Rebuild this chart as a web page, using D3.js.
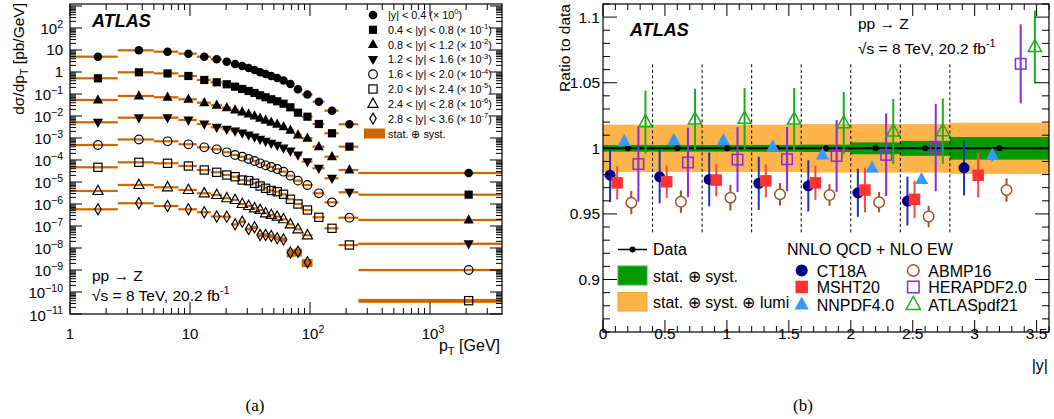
<!DOCTYPE html>
<html><head><meta charset="utf-8">
<script src="https://d3js.org/d3.v7.min.js"></script>
<style>
html,body{margin:0;padding:0;background:#fff;}
svg{display:block;}
text{font-family:"Liberation Sans",Arial,Helvetica,sans-serif;fill:#000;}
</style></head>
<body><svg id="chart" width="1054" height="419"></svg>
<script>
// ================= Panel (a) data =================
const ptLow  = [0,2.5,5,8,11.4,14.9,18.5,22,25.5,29,32.6,36.4,40.4,44.9,50.2,56.4,63.9,73.4,85.4,105,132,173,253];
const ptHigh = [2.5,5,8,11.4,14.9,18.5,22,25.5,29,32.6,36.4,40.4,44.9,50.2,56.4,63.9,73.4,85.4,105,132,173,253,8000];
const ptPos  = [1.71,3.75,6.5,9.7,13.15,16.7,20.25,23.75,27.25,30.8,34.5,38.4,42.65,47.55,53.3,60.15,68.65,79.4,95.2,118.5,152.5,213,2100];
const scaleExp = [0,-1,-2,-3,-4,-5,-6,-7];
// unscaled dσ/dpT [pb/GeV]
const sigY1 = [4.96,9.68,8.37,6.79,4.96,3.78,2.94,2.31,1.87,1.52,1.23,0.968,0.81,0.658,0.533,0.411,0.285,0.164,0.0949,0.0447,0.0174,0.0042,2.56e-5];
const sigY2 = [5.17,9.68,8.6,6.58,4.33,3.40,2.76,2.15,1.69,1.37,1.11,0.873,0.708,0.574,0.466,0.362,0.248,0.141,0.093,0.0433,0.0164,0.00403,2.65e-5];
const sigY3 = [5.34,8.11,7.08,5.74,4.03,3.06,2.38,1.87,1.52,1.23,1.00,0.785,0.638,0.518,0.42,0.327,0.224,0.137,0.0968,0.0403,0.0141,0.00351,1.88e-5];
const sigY4 = [5.17,8.37,8.37,6.58,4.33,3.06,2.48,2.08,1.69,1.37,1.11,0.873,0.708,0.574,0.466,0.351,0.256,0.169,0.0838,0.042,0.0147,0.0034,1.57e-5];
const sigY5 = [4.81,8.55,7.08,5.17,3.78,3.06,2.24,1.69,1.41,1.11,0.902,0.708,0.574,0.481,0.39,0.294,0.193,0.115,0.0731,0.0306,0.0119,0.00238,1.0e-5];
const sigY6 = [4.66,7.85,7.08,5.33,3.51,2.76,2.08,1.74,1.23,1.15,0.873,0.658,0.518,0.411,0.362,0.276,0.164,0.1,0.0533,0.0248,0.00785,0.00137,4.03e-6];
const sigY7 = [3.90,7.31,5.74,4.33,3.06,2.56,1.82,1.52,1.0,0.811,0.638,0.533,0.378,0.316,0.265,0.202,0.119,0.0708,0.0378];
const sigY8 = [5.74,10.8,8.11,5.74,4.20,2.70,2.65,1.19,1.57,0.731,0.873,0.39,0.39,0.351,0.276,0.243,0.0624,0.0679,0.0224];
// relative uncertainties (stat ⊕ syst)
const errY1 = [0.02,0.02,0.02,0.02,0.02,0.02,0.02,0.02,0.02,0.02,0.02,0.02,0.02,0.02,0.02,0.02,0.02,0.02,0.03,0.03,0.04,0.05,0.10];
const errY2 = [0.02,0.02,0.02,0.02,0.02,0.02,0.02,0.02,0.02,0.02,0.02,0.02,0.02,0.02,0.02,0.02,0.02,0.02,0.03,0.03,0.04,0.05,0.10];
const errY3 = [0.02,0.02,0.02,0.02,0.02,0.02,0.02,0.02,0.02,0.02,0.02,0.02,0.02,0.02,0.02,0.02,0.02,0.02,0.03,0.03,0.04,0.05,0.10];
const errY4 = [0.02,0.02,0.02,0.02,0.02,0.02,0.02,0.02,0.02,0.02,0.02,0.02,0.02,0.02,0.02,0.02,0.02,0.03,0.03,0.04,0.05,0.06,0.12];
const errY5 = [0.02,0.02,0.02,0.02,0.02,0.02,0.02,0.02,0.02,0.02,0.02,0.02,0.02,0.02,0.02,0.03,0.03,0.03,0.04,0.05,0.06,0.08,0.12];
const errY6 = [0.03,0.03,0.03,0.03,0.03,0.03,0.03,0.03,0.03,0.03,0.03,0.03,0.03,0.03,0.04,0.04,0.04,0.05,0.06,0.07,0.08,0.12,0.20];
const errY7 = [0.03,0.03,0.03,0.03,0.03,0.03,0.03,0.03,0.04,0.04,0.04,0.05,0.05,0.05,0.06,0.06,0.07,0.08,0.10];
const errY8 = [0.04,0.04,0.04,0.05,0.06,0.08,0.10,0.12,0.14,0.16,0.16,0.20,0.20,0.20,0.20,0.22,0.40,0.40,0.40];
const legendA = [
  [["|y| < 0.4 (× 10"],["0","sup"],[")"]],
  [["0.4 < |y| < 0.8 (× 10"],["-1","sup"],[")"]],
  [["0.8 < |y| < 1.2 (× 10"],["-2","sup"],[")"]],
  [["1.2 < |y| < 1.6 (× 10"],["-3","sup"],[")"]],
  [["1.6 < |y| < 2.0 (× 10"],["-4","sup"],[")"]],
  [["2.0 < |y| < 2.4 (× 10"],["-5","sup"],[")"]],
  [["2.4 < |y| < 2.8 (× 10"],["-6","sup"],[")"]],
  [["2.8 < |y| < 3.6 (× 10"],["-7","sup"],[")"]]
];

// ================= Panel (b) data =================
const yBinLo = [0,0.4,0.8,1.2,1.6,2.0,2.4,2.8];
const yBinHi = [0.4,0.8,1.2,1.6,2.0,2.4,2.8,3.6];
const dataRatio = [1,1,1,1,1,1,1,1];
const errStatSyst = [0.0025,0.0025,0.0025,0.0026,0.0028,0.0045,0.0057,0.0086];
const errStatSystLumi = [0.018,0.018,0.018,0.018,0.0185,0.0185,0.0185,0.0195];
const CT18A = [0.9795,0.9783,0.9763,0.9733,0.9714,0.9661,0.9598,0.9851];
const CT18A_err = [0.0205,0.0202,0.0205,0.0202,0.0195,0.0183,0.0186,0.021];
const MSHT20 = [0.9737,0.9745,0.9758,0.9752,0.9737,0.9682,0.9611,0.9795];
const MSHT20_err = [0.0127,0.0123,0.0124,0.0126,0.013,0.017,0.0143,0.017];
const NNPDF40 = [1.0053,1.006,1.006,1.001,0.995,0.9851,0.9763,0.9947];
const NNPDF40_err = [0.002,0.002,0.002,0.002,0.002,0.003,0.003,0.005];
const ABMP16 = [0.9586,0.9593,0.9624,0.9649,0.9644,0.9589,0.948,0.9682];
const ABMP16_err = [0.0088,0.0086,0.0098,0.0086,0.0082,0.0078,0.0082,0.0089];
const HERAPDF20 = [0.988,0.9892,0.9914,0.9917,0.9942,0.995,1.0006,1.0644];
const HERAPDF20_err = [0.0287,0.0265,0.0248,0.0245,0.0274,0.0314,0.0333,0.0301];
const ATLASpdf21 = [1.02,1.022,1.0225,1.022,1.0192,1.0129,1.0131,1.0773];
const ATLASpdf21_err = [0.024,0.0234,0.0236,0.024,0.0237,0.0248,0.0249,0.0278];
const yTicksB = [0.9,0.95,1,1.05,1.1];
const xTicksB = [0,0.5,1,1.5,2,2.5,3,3.5];

// ================= helpers =================
const svg = d3.select("#chart");
function rich(sel, x, y, parts, size, anchor){
  const t = sel.append("text").attr("x",x).attr("y",y).attr("font-size",size).attr("text-anchor",anchor||"start");
  let cur = 0;
  parts.forEach(p=>{
    const s=p[0], type=p[1]||"n";
    const target = type==="sup" ? -size*0.42 : type==="sub" ? size*0.28 : 0;
    const ts = t.append("tspan").text(s).attr("dy", target-cur);
    if(type!=="n") ts.attr("font-size", size*0.7);
    cur = target;
  });
  return t;
}
function tick(g,x1,y1,x2,y2){
  g.append("line").attr("x1",x1).attr("y1",y1).attr("x2",x2).attr("y2",y2).attr("stroke","#000").attr("stroke-width",1);
}
function marker(g,type,x,y,s,fill,stroke,sw){
  let el;
  if(type==="circle") el=g.append("circle").attr("cx",x).attr("cy",y).attr("r",s/2);
  else if(type==="square") el=g.append("rect").attr("x",x-s/2).attr("y",y-s/2).attr("width",s).attr("height",s);
  else {
    let pts;
    if(type==="tri") pts=[[0,-s*0.62],[s*0.55,s*0.38],[-s*0.55,s*0.38]];
    else if(type==="tridown") pts=[[0,s*0.62],[s*0.55,-s*0.38],[-s*0.55,-s*0.38]];
    else pts=[[0,-s*0.55],[s*0.32,0],[0,s*0.55],[-s*0.32,0]];
    el=g.append("path").attr("d","M"+pts.map(p=>(x+p[0]).toFixed(2)+","+(y+p[1]).toFixed(2)).join("L")+"Z");
  }
  el.attr("fill",fill).attr("stroke",stroke||"none").attr("stroke-width",sw||0);
  return el;
}

// ================= Panel (a) =================
const A = {x0:70,x1:502,y0:4,y1:314};
const xA = d3.scaleLog().domain([1,Math.pow(10,3.6)]).range([A.x0,A.x1]);
const yA = d3.scaleLog().domain([1e-11,Math.pow(10,3.09)]).range([A.y1,A.y0]);
const gA = svg.append("g");
svg.append("defs").append("clipPath").attr("id","clipA").append("rect")
  .attr("x",A.x0).attr("y",A.y0).attr("width",A.x1-A.x0).attr("height",A.y1-A.y0);

const seriesA = [
  {v:sigY1,e:errY1,mk:"circle",open:false,s:8.6},
  {v:sigY2,e:errY2,mk:"square",open:false,s:8.2},
  {v:sigY3,e:errY3,mk:"tri",open:false,s:9.2},
  {v:sigY4,e:errY4,mk:"tridown",open:false,s:9.2},
  {v:sigY5,e:errY5,mk:"circle",open:true,s:8.6},
  {v:sigY6,e:errY6,mk:"square",open:true,s:8.2},
  {v:sigY7,e:errY7,mk:"tri",open:true,s:9.2},
  {v:sigY8,e:errY8,mk:"diamond",open:true,s:10}
];
const band = gA.append("g").attr("clip-path","url(#clipA)");
const orangeA = "#cc6600";
seriesA.forEach((S,k)=>{
  const f = Math.pow(10, scaleExp[k]);
  S.v.forEach((val,i)=>{
    const v = val*f;
    const xa = xA(Math.max(ptLow[i], 1)), xb = xA(Math.min(ptHigh[i], 8000));
    let ya = yA(v*(1+S.e[i])), yb = yA(v*(1-S.e[i]));
    if(yb-ya < 2.2){ const c=yA(v); ya=c-1.1; yb=c+1.1; }
    band.append("rect").attr("x",xa).attr("y",ya).attr("width",xb-xa).attr("height",yb-ya).attr("fill",orangeA);
  });
});
seriesA.forEach((S,k)=>{
  const f = Math.pow(10, scaleExp[k]);
  S.v.forEach((val,i)=>{
    marker(gA,S.mk,xA(ptPos[i]),yA(val*f),S.s,S.open?"none":"#000","#000",S.open?1.2:0);
  });
});

// frame + ticks
gA.append("rect").attr("x",A.x0).attr("y",A.y0).attr("width",A.x1-A.x0).attr("height",A.y1-A.y0)
  .attr("fill","none").attr("stroke","#000").attr("stroke-width",1.2);
for(let e=-11;e<=3;e++){
  for(let m=1;m<10;m++){
    const v=m*Math.pow(10,e);
    if(v<1e-11*0.999 || v>yA.domain()[1]) continue;
    const y=yA(v), len=(m===1)?12:6;
    tick(gA,A.x0,y,A.x0+len,y); tick(gA,A.x1,y,A.x1-len,y);
  }
}
for(let e=0;e<=3;e++){
  for(let m=1;m<10;m++){
    const v=m*Math.pow(10,e);
    if(v>xA.domain()[1]) continue;
    const x=xA(v), len=(m===1)?12:6;
    tick(gA,x,A.y1,x,A.y1-len); tick(gA,x,A.y0,x,A.y0+len);
  }
}
// y labels
for(let e=-11;e<=2;e++){
  const y=yA(Math.pow(10,e));
  if(e===0) rich(gA,63,y+5.5,[["1"]],15,"end");
  else if(e===1) rich(gA,63,y+5.5,[["10"]],15,"end");
  else rich(gA,63,y+6.5,[["10"],[e<0?"\u2212"+(-e):String(e),"sup"]],15,"end");
}
// x labels
rich(gA,xA(1),339,[["1"]],15,"middle");
rich(gA,xA(10),339,[["10"]],15,"middle");
rich(gA,xA(100)+3,339,[["10"],["2","sup"]],15,"middle");
rich(gA,xA(1000)+3,339,[["10"],["3","sup"]],15,"middle");
rich(gA,500,351,[["p"],["T","sub"],[" [GeV]"]],16,"end");
// y title
const yt = gA.append("g").attr("transform","translate(24,3) rotate(-90)");
rich(yt,0,0,[["dσ/dp"],["T","sub"],[" [pb/GeV]"]],15.5,"end");
// ATLAS & labels
gA.append("text").attr("x",92).attr("y",27).attr("font-size",18).attr("font-weight","bold").attr("font-style","italic").text("ATLAS");
rich(gA,92,281,[["pp → Z"]],15.5,"start");
rich(gA,92,301,[["√s = 8 TeV, 20.2 fb"],["-1","sup"]],15.5,"start");
// legend
legendA.forEach((parts,k)=>{
  const y = 15 + k*14.8;
  const S = seriesA[k];
  marker(gA,S.mk,373,y,S.s,S.open?"none":"#000","#000",S.open?1.2:0);
  rich(gA,388,y+4,parts,10.8,"start");
});
gA.append("rect").attr("x",364).attr("y",128.5).attr("width",21).attr("height",10).attr("fill",orangeA);
rich(gA,388,137.5,[["stat. ⊕ syst."]],10.8,"start");

// ================= Panel (b) =================
const B = {x0:603,x1:1049,y0:4,y1:332};
const xB = d3.scaleLinear().domain([0,3.6]).range([B.x0,B.x1]);
const yB = d3.scaleLinear().domain([0.86,1.11]).range([B.y1,B.y0]);
const gB = svg.append("g");
const orangeB = "#fdb44b", greenB = "#009900";
yBinLo.forEach((lo,i)=>{
  const hi=yBinHi[i];
  gB.append("rect").attr("x",xB(lo)).attr("y",yB(dataRatio[i]+errStatSystLumi[i])).attr("width",xB(hi)-xB(lo))
    .attr("height",yB(dataRatio[i]-errStatSystLumi[i])-yB(dataRatio[i]+errStatSystLumi[i])).attr("fill",orangeB);
});
yBinLo.forEach((lo,i)=>{
  const hi=yBinHi[i];
  gB.append("rect").attr("x",xB(lo)).attr("y",yB(dataRatio[i]+errStatSyst[i])).attr("width",xB(hi)-xB(lo))
    .attr("height",yB(dataRatio[i]-errStatSyst[i])-yB(dataRatio[i]+errStatSyst[i])).attr("fill",greenB);
});
// dashed bin separators
yBinLo.slice(1).forEach(lo=>{
  gB.append("line").attr("x1",xB(lo)).attr("x2",xB(lo)).attr("y1",yB(1.064)).attr("y2",yB(0.935))
    .attr("stroke","#000").attr("stroke-width",1).attr("stroke-dasharray","3,2.5");
});
// data line + dots
yBinLo.forEach((lo,i)=>{
  gB.append("line").attr("x1",xB(lo)).attr("x2",xB(yBinHi[i])).attr("y1",yB(dataRatio[i])).attr("y2",yB(dataRatio[i]))
    .attr("stroke","#000").attr("stroke-width",2);
});
yBinLo.forEach((lo,i)=>{
  gB.append("circle").attr("cx",xB((lo+yBinHi[i])/2)).attr("cy",yB(dataRatio[i])).attr("r",3).attr("fill","#000");
});
// models
const models = [
  {v:CT18A,e:CT18A_err,pos:1,mk:"circle",fill:"#000088",stroke:"none",line:"#2233bb",s:11},
  {v:MSHT20,e:MSHT20_err,pos:2,mk:"square",fill:"#ff3333",stroke:"none",line:"#ff4444",s:11.5},
  {v:NNPDF40,e:NNPDF40_err,pos:3,mk:"tri",fill:"#3399ff",stroke:"none",line:"#3399ff",s:12},
  {v:ABMP16,e:ABMP16_err,pos:4,mk:"circle",fill:"#fff",stroke:"#a0522d",line:"#a0522d",s:10.5},
  {v:HERAPDF20,e:HERAPDF20_err,pos:5,mk:"square",fill:"none",stroke:"#8a2be2",line:"#8a2be2",s:10.5},
  {v:ATLASpdf21,e:ATLASpdf21_err,pos:6,mk:"tri",fill:"none",stroke:"#22aa22",line:"#22aa22",s:12}
];
models.forEach(M=>{
  M.v.forEach((v,i)=>{
    const x = xB(yBinLo[i] + (yBinHi[i]-yBinLo[i])*M.pos/7);
    gB.append("line").attr("x1",x).attr("x2",x).attr("y1",yB(v+M.e[i])).attr("y2",yB(v-M.e[i]))
      .attr("stroke",M.line).attr("stroke-width",2);
    marker(gB,M.mk,x,yB(v),M.s,M.fill,M.stroke,M.stroke==="none"?0:1.5);
  });
});
// frame + ticks
gB.append("rect").attr("x",B.x0).attr("y",B.y0).attr("width",B.x1-B.x0).attr("height",B.y1-B.y0)
  .attr("fill","none").attr("stroke","#000").attr("stroke-width",1.2);
for(let k=0;k<=25;k++){
  const v=0.86+k*0.01; if(v>1.1101) continue;
  const major = Math.abs(Math.round(v*20)-v*20)<1e-6;
  const y=yB(v), len=major?14:7;
  tick(gB,B.x0,y,B.x0+len,y); tick(gB,B.x1,y,B.x1-len,y);
}
for(let k=0;k<=36;k++){
  const v=k*0.1;
  const major = k%5===0;
  const x=xB(v), len=major?12:6;
  tick(gB,x,B.y1,x,B.y1-len); tick(gB,x,B.y0,x,B.y0+len);
}
yTicksB.forEach(v=>{ gB.append("text").attr("x",600).attr("y",yB(v)+5.5).attr("font-size",15.5).attr("text-anchor","end").text(d3.format("~g")(v)); });
xTicksB.forEach(v=>{ gB.append("text").attr("x",xB(v)).attr("y",339).attr("font-size",15.5).attr("text-anchor","middle").text(d3.format("~g")(v)); });
gB.append("text").attr("x",1048).attr("y",371).attr("font-size",16).attr("text-anchor","end").text("|y|");
gB.append("text").attr("transform","translate(570,4) rotate(-90)").attr("font-size",15.5).attr("text-anchor","end").text("Ratio to data");
gB.append("text").attr("x",630).attr("y",36).attr("font-size",18).attr("font-weight","bold").attr("font-style","italic").text("ATLAS");
rich(gB,858,29,[["pp → Z"]],15.5,"start");
rich(gB,858,54,[["√s = 8 TeV, 20.2 fb"],["-1","sup"]],15.5,"start");
// legend left
gB.append("line").attr("x1",618).attr("x2",647).attr("y1",249.5).attr("y2",249.5).attr("stroke","#000").attr("stroke-width",1.5);
gB.append("circle").attr("cx",632.5).attr("cy",249.5).attr("r",3).attr("fill","#000");
gB.append("text").attr("x",653).attr("y",255).attr("font-size",16).text("Data");
gB.append("rect").attr("x",618).attr("y",266).attr("width",29).attr("height",19).attr("fill",greenB).attr("stroke","#33bb33").attr("stroke-width",1);
gB.append("text").attr("x",653).attr("y",282).attr("font-size",16).text("stat. ⊕ syst.");
gB.append("rect").attr("x",618).attr("y",292.5).attr("width",29).attr("height",18.5).attr("fill",orangeB).attr("stroke","#f5a030").attr("stroke-width",1);
gB.append("text").attr("x",653).attr("y",307.5).attr("font-size",16).text("stat. ⊕ syst. ⊕ lumi");
// legend right
gB.append("text").attr("x",787).attr("y",255).attr("font-size",16).text("NNLO QCD + NLO EW");
const modelNames = ["CT18A","MSHT20","NNPDF4.0","ABMP16","HERAPDF2.0","ATLASpdf21"];
models.forEach((M,k)=>{
  const col = k<3?0:1, row=k%3;
  const x = col===0?801.7:913.3, y=[270.5,287,304.5][row];
  marker(gB,M.mk,x,y,M.s+1,M.fill,M.stroke,M.stroke==="none"?0:1.5);
  gB.append("text").attr("x",x+15).attr("y",y+6).attr("font-size",16).text(modelNames[k]);
});

// captions
svg.append("text").attr("x",255).attr("y",411).attr("font-size",17).attr("text-anchor","middle").style("font-family","'Liberation Serif','Times New Roman',serif").text("(a)");
svg.append("text").attr("x",803).attr("y",411).attr("font-size",17).attr("text-anchor","middle").style("font-family","'Liberation Serif','Times New Roman',serif").text("(b)");
</script>
</body></html>
